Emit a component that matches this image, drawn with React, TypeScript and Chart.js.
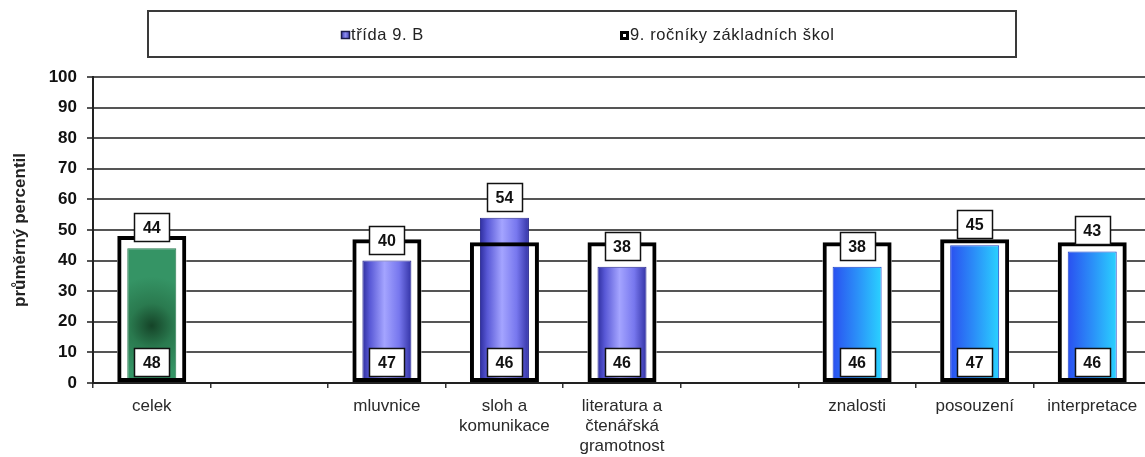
import React, { useEffect, useRef } from 'react';
import { Chart, registerables } from 'chart.js';

Chart.register(...registerables);

// ---------- data ----------
const CATEGORIES: (string | string[])[] = [
  'celek',
  '',
  'mluvnice',
  ['sloh a', 'komunikace'],
  ['literatura a', 'čtenářská', 'gramotnost'],
  '',
  'znalosti',
  'posouzení',
  'interpretace',
];
const CLASS_LABEL = 'třída 9. B';
const SCHOOLS_LABEL = '9. ročníky základních škol';
const CLASS_VALUES: (number | null)[] = [44, null, 40, 54, 38, null, 38, 45, 43];
const SCHOOLS_VALUES: (number | null)[] = [48, null, 47, 46, 46, null, 46, 47, 46];
const Y_TITLE = 'průměrný percentil';
const Y_MIN = 0;
const Y_MAX = 100;
const Y_STEP = 10;

// ---------- style ----------
const FONT = '"Liberation Sans", Arial, Helvetica, sans-serif';
const OUTER_PCT = 0.587;
const INNER_PCT = 0.417;

function barRect(chart: any, index: number, value: number, pct: number) {
  const xs = chart.scales.x;
  const ys = chart.scales.y;
  const cx = xs.getPixelForValue(index);
  const w = (xs.width / CATEGORIES.length) * pct;
  return {
    x0: cx - w / 2,
    x1: cx + w / 2,
    cx,
    top: ys.getPixelForValue(value),
    base: ys.getPixelForValue(0),
  };
}

function classFill(ctx: any) {
  const chart = ctx.chart;
  const i = ctx.dataIndex;
  const fallback = i === 0 ? '#2e8b57' : i < 5 ? '#8c8cf5' : '#2f8cff';
  if (!chart.chartArea || ctx.type !== 'data' || ctx.raw == null) return fallback;
  const r = barRect(chart, i, ctx.raw, INNER_PCT);
  const c = chart.ctx;
  if (i === 0) {
    const cy = (r.top + r.base) / 2 + 10;
    const g = c.createRadialGradient(r.cx, cy, 0, r.cx, cy, (r.x1 - r.x0) * 1.0);
    g.addColorStop(0, '#154428');
    g.addColorStop(0.45, '#2a7a4f');
    g.addColorStop(1, '#359465');
    return g;
  }
  if (i < 5) {
    const g = c.createLinearGradient(r.x0, 0, r.x1, 0);
    g.addColorStop(0, '#2e2e9e');
    g.addColorStop(0.15, '#5858d6');
    g.addColorStop(0.45, '#a4a4ff');
    g.addColorStop(0.75, '#7777ee');
    g.addColorStop(1, '#3333a6');
    return g;
  }
  const g = c.createLinearGradient(r.x0, 0, r.x1, 0);
  g.addColorStop(0, '#2a50f0');
  g.addColorStop(0.5, '#2b8ff8');
  g.addColorStop(1, '#2ad2ff');
  return g;
}

function classBorder(ctx: any) {
  const i = ctx.dataIndex;
  return i === 0 ? '#2a7a50' : i < 5 ? '#2a2a90' : '#1f44c8';
}

function drawValueBox(c: CanvasRenderingContext2D, cx: number, bottom: number, text: string) {
  const w = 35;
  const h = 28;
  const x = Math.round(cx - w / 2) + 0.5;
  const y = Math.round(bottom - h) + 0.5;
  c.fillStyle = '#ffffff';
  c.fillRect(x, y, w, h);
  c.lineWidth = 1.5;
  c.strokeStyle = '#111111';
  c.strokeRect(x, y, w, h);
  c.fillStyle = '#111111';
  c.font = `bold 16px ${FONT}`;
  c.textAlign = 'center';
  c.textBaseline = 'middle';
  c.fillText(text, cx, y + h / 2 + 1);
}

const valueBoxesPlugin = {
  id: 'valueBoxes',
  afterDatasetsDraw(chart: any) {
    const c = chart.ctx as CanvasRenderingContext2D;
    c.save();
    const classMeta = chart.getDatasetMeta(1);
    const schoolMeta = chart.getDatasetMeta(2);
    classMeta.data.forEach((el: any, i: number) => {
      const v = chart.data.datasets[1].data[i];
      if (v == null) return;
      drawValueBox(c, el.x, el.y - 7, String(v));
    });
    schoolMeta.data.forEach((el: any, i: number) => {
      const v = chart.data.datasets[2].data[i];
      if (v == null) return;
      drawValueBox(c, el.x, el.base - 6, String(v));
    });
    c.restore();
  },
};

const boxedLegendPlugin = {
  id: 'boxedLegend',
  afterDraw(chart: any) {
    const c = chart.ctx as CanvasRenderingContext2D;
    c.save();
    c.lineWidth = 2;
    c.strokeStyle = '#3a3a3a';
    c.strokeRect(148, 11, 868, 46);

    // class marker
    const g = c.createLinearGradient(341, 0, 350, 0);
    g.addColorStop(0, '#3a3ab0');
    g.addColorStop(0.5, '#8a8af0');
    g.addColorStop(1, '#3a3ab0');
    c.fillStyle = g;
    c.fillRect(341, 31, 9, 8);
    c.lineWidth = 1.5;
    c.strokeStyle = '#1c1c4a';
    c.strokeRect(341.5, 31.5, 8, 7);

    // schools marker
    c.fillStyle = '#000000';
    c.fillRect(620, 31, 9, 9);
    c.fillStyle = '#ffffff';
    c.fillRect(623, 34, 3, 3);

    c.fillStyle = '#222222';
    c.font = `16.5px ${FONT}`;
    c.textAlign = 'left';
    c.textBaseline = 'middle';
    try {
      (c as any).letterSpacing = '0.6px';
    } catch (e) {}
    c.fillText(chart.data.datasets[1].label, 351, 35);
    c.fillText(chart.data.datasets[2].label, 630, 35);
    c.restore();
  },
};

export default function App() {
  const canvasRef = useRef<HTMLCanvasElement | null>(null);

  useEffect(() => {
    if (!canvasRef.current) return;
    Chart.defaults.font.family = FONT;
    const chart = new Chart(canvasRef.current, {
      type: 'bar',
      data: {
        labels: CATEGORIES as any,
        datasets: [
          {
            label: SCHOOLS_LABEL + ' (fill)',
            data: SCHOOLS_VALUES,
            backgroundColor: '#ffffff',
            borderWidth: 0,
            grouped: false,
            order: 3,
            barPercentage: OUTER_PCT,
            categoryPercentage: 1,
          } as any,
          {
            label: CLASS_LABEL,
            data: CLASS_VALUES,
            backgroundColor: classFill,
            borderColor: classBorder,
            borderWidth: 1,
            borderSkipped: 'start',
            grouped: false,
            order: 2,
            barPercentage: INNER_PCT,
            categoryPercentage: 1,
          } as any,
          {
            label: SCHOOLS_LABEL,
            data: SCHOOLS_VALUES,
            backgroundColor: 'rgba(0,0,0,0)',
            borderColor: '#000000',
            borderWidth: 4,
            borderSkipped: false,
            grouped: false,
            order: 1,
            barPercentage: OUTER_PCT,
            categoryPercentage: 1,
          } as any,
        ],
      },
      options: {
        animation: false,
        responsive: true,
        maintainAspectRatio: false,
        layout: { padding: { top: 77, left: 0, right: 0, bottom: 0 } },
        plugins: {
          legend: { display: false },
          tooltip: { enabled: false },
        },
        scales: {
          x: {
            offset: true,
            afterFit: (s: any) => {
              s.height = 74;
            },
            grid: {
              display: true,
              drawOnChartArea: false,
              drawTicks: true,
              tickLength: 5,
              color: '#333333',
              lineWidth: 1.5,
              offset: true,
            },
            border: { display: true, color: '#222222', width: 2 },
            ticks: {
              autoSkip: false,
              maxRotation: 0,
              minRotation: 0,
              padding: 9,
              color: '#2a2a2a',
              font: { size: 17, lineHeight: 1.15 },
            },
          },
          y: {
            min: Y_MIN,
            max: Y_MAX,
            afterFit: (s: any) => {
              s.width = 93;
            },
            ticks: {
              stepSize: Y_STEP,
              padding: 10,
              color: '#111111',
              font: { size: 17, weight: 'bold' },
            },
            grid: {
              color: '#555555',
              lineWidth: 2,
              drawTicks: true,
              tickLength: 6,
            },
            border: { display: true, color: '#222222', width: 2 },
            title: {
              display: true,
              text: Y_TITLE,
              color: '#222222',
              font: { size: 17, weight: 'bold' },
              padding: { top: 10, bottom: 0 },
            },
          },
        },
      } as any,
      plugins: [valueBoxesPlugin, boxedLegendPlugin],
    });
    return () => chart.destroy();
  }, []);

  return (
    <div
      style={{
        position: 'fixed',
        left: 0,
        top: 0,
        width: 1145,
        height: 457,
        overflow: 'hidden',
        background: '#ffffff',
      }}
    >
      <div style={{ position: 'relative', width: 1151, height: 457 }}>
        <canvas ref={canvasRef} />
      </div>
    </div>
  );
}
